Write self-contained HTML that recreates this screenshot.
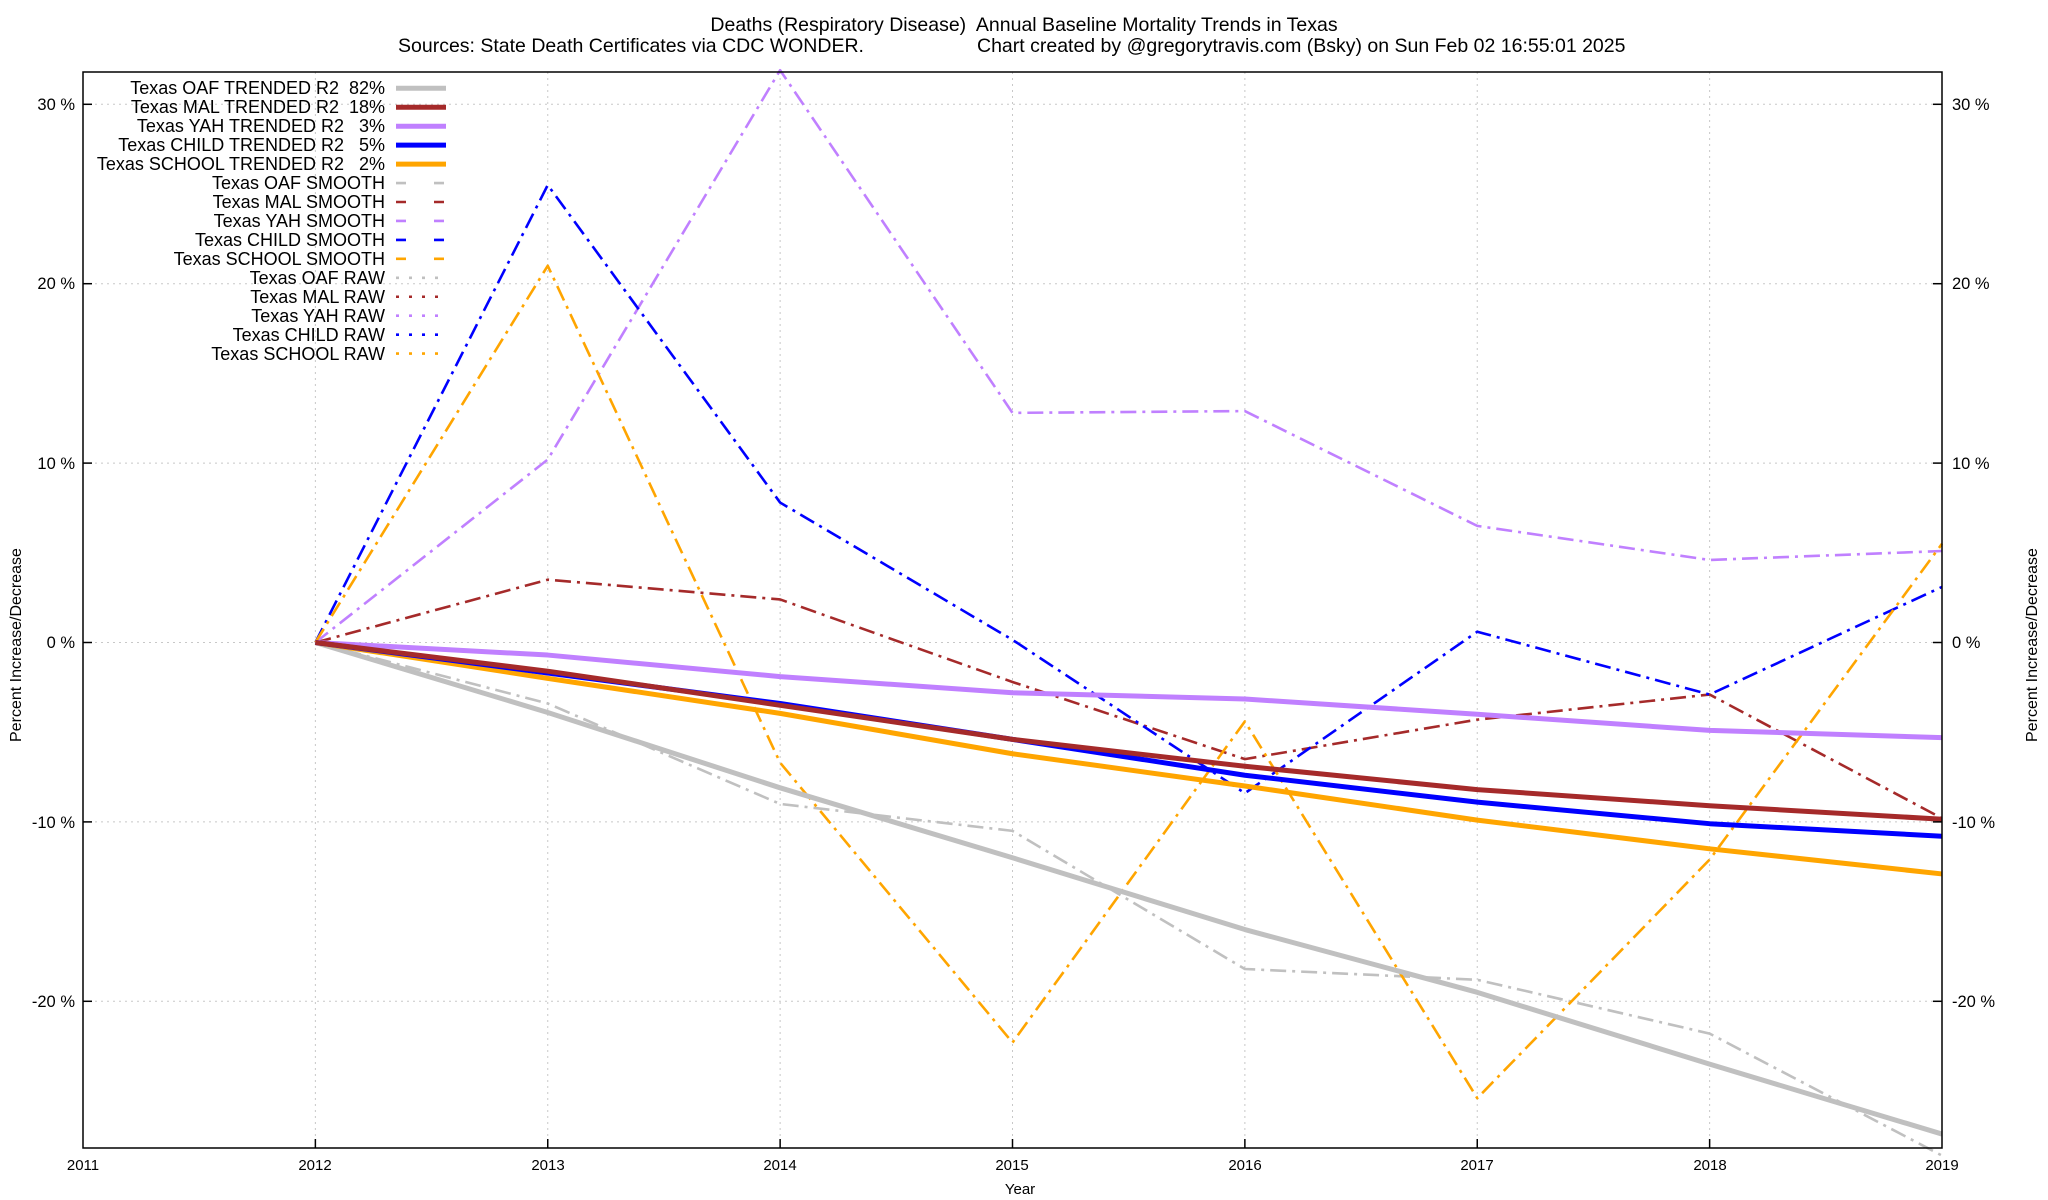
<!DOCTYPE html>
<html><head><meta charset="utf-8"><style>
html,body{margin:0;padding:0;background:#fff;}
svg{display:block;font-family:"Liberation Sans",sans-serif;}
text{white-space:pre;}
</style></head><body>
<svg id="s" width="2048" height="1200" viewBox="0 0 2048 1200" xmlns="http://www.w3.org/2000/svg" xml:space="preserve">
<rect width="2048" height="1200" fill="#fff"/>
<g id="grid" stroke="#c8c8c8" stroke-width="1" stroke-dasharray="2,4"></g>
<g id="series" fill="none" stroke-linejoin="round"></g>
<rect x="83" y="72" width="1859" height="1076" fill="none" stroke="#000" stroke-width="1.5"/>
<g id="ticks" stroke="#000" stroke-width="1.5"></g>
<g font-size="19.5" fill="#000">
<text x="1024" y="31" text-anchor="middle">Deaths (Respiratory Disease)  Annual Baseline Mortality Trends in Texas</text>
<text x="398" y="52">Sources: State Death Certificates via CDC WONDER.</text>
<text x="977" y="52">Chart created by @gregorytravis.com (Bsky) on Sun Feb 02 16:55:01 2025</text>
</g>
<g font-size="16.5" text-anchor="end">
<text x="75" y="110">30 %</text><text x="75" y="289">20 %</text><text x="75" y="469">10 %</text>
<text x="75" y="648">0 %</text><text x="75" y="828">-10 %</text><text x="75" y="1007">-20 %</text>
</g>
<g font-size="16.5">
<text x="1952" y="110">30 %</text><text x="1952" y="289">20 %</text><text x="1952" y="469">10 %</text>
<text x="1952" y="648">0 %</text><text x="1952" y="828">-10 %</text><text x="1952" y="1007">-20 %</text>
</g>
<g font-size="15" text-anchor="middle">
<text x="83" y="1170">2011</text><text x="315" y="1170">2012</text><text x="548" y="1170">2013</text>
<text x="780" y="1170">2014</text><text x="1012" y="1170">2015</text><text x="1245" y="1170">2016</text>
<text x="1477" y="1170">2017</text><text x="1710" y="1170">2018</text><text x="1942" y="1170">2019</text>
<text x="1020" y="1194">Year</text>
</g>
<text font-size="16" text-anchor="middle" transform="translate(21,645) rotate(-90)">Percent Increase/Decrease</text>
<text font-size="16" text-anchor="middle" transform="translate(2037,645) rotate(-90)">Percent Increase/Decrease</text>
<g font-size="18" text-anchor="end">
<text x="385" y="94">Texas OAF TRENDED R2  82%</text>
<text x="385" y="113">Texas MAL TRENDED R2  18%</text>
<text x="385" y="132">Texas YAH TRENDED R2   3%</text>
<text x="385" y="151">Texas CHILD TRENDED R2   5%</text>
<text x="385" y="170">Texas SCHOOL TRENDED R2   2%</text>
<text x="385" y="189">Texas OAF SMOOTH</text>
<text x="385" y="208">Texas MAL SMOOTH</text>
<text x="385" y="227">Texas YAH SMOOTH</text>
<text x="385" y="246">Texas CHILD SMOOTH</text>
<text x="385" y="265">Texas SCHOOL SMOOTH</text>
<text x="385" y="284">Texas OAF RAW</text>
<text x="385" y="303">Texas MAL RAW</text>
<text x="385" y="322">Texas YAH RAW</text>
<text x="385" y="341">Texas CHILD RAW</text>
<text x="385" y="360">Texas SCHOOL RAW</text>
</g>
<g id="leg"></g>
</svg>
<script>
var NS="http://www.w3.org/2000/svg";
function X(i){return 83+i*232.375;}
function Y(v){return 642.5-17.94*v;}
function el(p,n,a){var e=document.createElementNS(NS,n);for(var k in a)e.setAttribute(k,a[k]);document.getElementById(p).appendChild(e);return e;}
for(var i=1;i<8;i++)el("grid","line",{x1:X(i),y1:72,x2:X(i),y2:1148});
[30,20,10,0,-10,-20].forEach(function(v){el("grid","line",{x1:83,y1:Y(v),x2:1942,y2:Y(v)});
 el("ticks","line",{x1:83,y1:Y(v),x2:92,y2:Y(v)});el("ticks","line",{x1:1933,y1:Y(v),x2:1942,y2:Y(v)});});
for(var i=1;i<8;i++){el("ticks","line",{x1:X(i),y1:1148,x2:X(i),y2:1139});}
var C={oaf:"#c0c0c0",mal:"#a52a2a",yah:"#c080ff",child:"#0000ff",school:"#ffa500"};
var sm={
oaf:[0,-3.4,-9.0,-10.5,-18.2,-18.8,-21.8,-28.6],
mal:[0,3.5,2.4,-2.2,-6.5,-4.3,-2.9,-9.8],
yah:[0,10.2,31.9,12.8,12.9,6.5,4.6,5.1],
child:[0,25.5,7.8,0.15,-8.4,0.6,-2.9,3.1],
school:[0,21.0,-6.7,-22.3,-4.4,-25.4,-12.1,5.5]};
var tr={
oaf:[0,-3.9,-8.1,-12.0,-16.0,-19.5,-23.5,-27.4],
mal:[0,-1.6,-3.5,-5.4,-6.9,-8.2,-9.1,-9.85],
yah:[0,-0.7,-1.9,-2.8,-3.15,-4.0,-4.9,-5.3],
child:[0,-1.7,-3.4,-5.4,-7.4,-8.9,-10.1,-10.8],
school:[0,-2.0,-3.95,-6.2,-8.0,-9.9,-11.5,-12.9]};
function pts(a){return a.map(function(v,i){return X(i+1)+","+Y(v);}).join(" ");}
for(var k in sm)el("series","polyline",{points:pts(sm[k]),stroke:C[k],"stroke-width":2.6,"stroke-dasharray":"16,6,3,6"});
["oaf","yah","school","child","mal"].forEach(function(k){el("series","polyline",{points:pts(tr[k]),stroke:C[k],"stroke-width":5});});
var ord=["oaf","mal","yah","child","school"];
ord.forEach(function(k,j){
 var y=88.3+j*18.95;el("leg","line",{x1:396,y1:y,x2:446,y2:y,stroke:C[k],"stroke-width":5});
 y=88.3+(j+5)*18.95;el("leg","line",{x1:396,y1:y,x2:446,y2:y,stroke:C[k],"stroke-width":2.6,"stroke-dasharray":"10,28"});
 y=88.3+(j+10)*18.95;el("leg","line",{x1:396,y1:y,x2:446,y2:y,stroke:C[k],"stroke-width":2.6,"stroke-dasharray":"3,10"});
});
</script>
</body></html>
